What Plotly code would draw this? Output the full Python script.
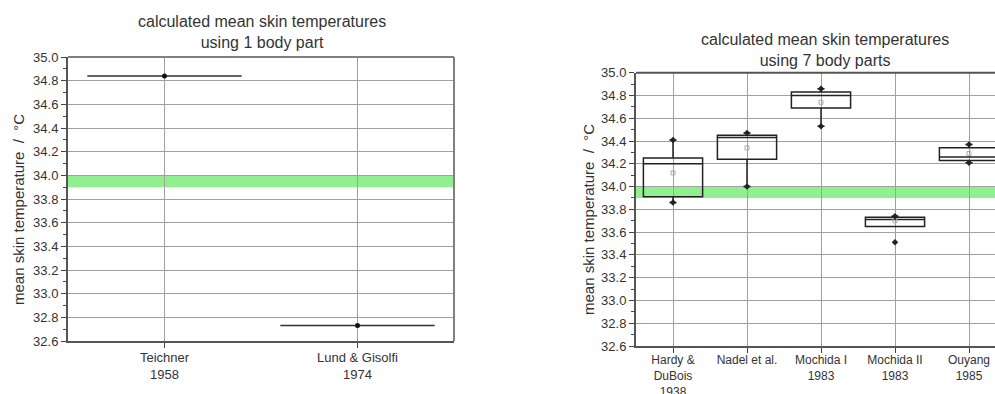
import plotly.graph_objects as go

# ---------------- data ----------------
left_categories = ["Teichner<br>1958", "Lund & Gisolfi<br>1974"]
left_values = [34.84, 32.73]

right_categories = ["Hardy &<br>DuBois<br>1938", "Nadel et al.", "Mochida I<br>1983",
                    "Mochida II<br>1983", "Ouyang<br>1985"]
right_q1 = [33.91, 34.24, 34.69, 33.65, 34.23]
right_median = [34.20, 34.43, 34.80, 33.71, 34.26]
right_q3 = [34.25, 34.45, 34.83, 33.73, 34.34]
right_lowfence = [33.86, 34.00, 34.53, 33.65, 34.21]
right_upfence = [34.41, 34.47, 34.86, 33.74, 34.37]
right_mean = [34.12, 34.34, 34.74, 33.70, 34.29]
right_min = [33.86, 34.00, 34.53, 33.51, 34.21]
right_max = [34.41, 34.47, 34.86, 33.74, 34.37]

band_low, band_high = 33.9, 34.0
y_range = [32.6, 35.0]
y_ticks = [32.6, 32.8, 33.0, 33.2, 33.4, 33.6, 33.8, 34.0, 34.2, 34.4, 34.6, 34.8, 35.0]

W, H = 995, 394
FONT = "Liberation Sans, Arial, sans-serif"
TXT = "#333333"

left_x = [i + 1 for i in range(len(left_categories))]
right_x = [i + 1 for i in range(len(right_categories))]

fig = go.Figure()

# ---------------- left chart ----------------
fig.add_trace(go.Box(
    x=left_x, q1=left_values, median=left_values, q3=left_values,
    lowerfence=left_values, upperfence=left_values,
    width=0.8, whiskerwidth=0, fillcolor="rgba(0,0,0,0)",
    line=dict(color="#333333", width=1.5), xaxis="x", yaxis="y",
    showlegend=False, hoverinfo="skip"))
fig.add_trace(go.Scatter(
    x=left_x, y=left_values, mode="markers",
    marker=dict(symbol="circle", size=5, color="#111111"),
    xaxis="x", yaxis="y", showlegend=False, hoverinfo="skip"))

# ---------------- right chart ----------------
fig.add_trace(go.Box(
    x=right_x, q1=right_q1, median=right_median, q3=right_q3,
    lowerfence=right_lowfence, upperfence=right_upfence,
    width=0.8, whiskerwidth=0.12, fillcolor="rgba(0,0,0,0)",
    line=dict(color="#222222", width=1.5), xaxis="x2", yaxis="y2",
    showlegend=False, hoverinfo="skip", boxpoints=False))
fig.add_trace(go.Scatter(
    x=right_x, y=right_mean, mode="markers",
    marker=dict(symbol="square-open", size=4, color="#aaaaaa", line=dict(width=1)),
    xaxis="x2", yaxis="y2", showlegend=False, hoverinfo="skip"))
fig.add_trace(go.Scatter(
    x=right_x + right_x, y=right_min + right_max, mode="markers",
    marker=dict(symbol="diamond", size=5, color="#222222"),
    xaxis="x2", yaxis="y2", showlegend=False, hoverinfo="skip"))

# ---------------- layout ----------------
ld = [68 / W, 454 / W]
ly = [1 - 341 / H, 1 - 57 / H]
rd = [636 / W, 1.0]
ry = [1 - 346 / H, 1 - 72.7 / H]

def xax(domain, rng, vals, text, anchor, fsize, standoff):
    return dict(domain=domain, range=rng, tickvals=vals, ticktext=text, anchor=anchor,
                automargin=False,
                showgrid=True, gridcolor="#a0a0a0", gridwidth=1,
                showline=True, linecolor="#555555", linewidth=2,
                ticks="outside", ticklen=5, tickcolor="#444444",
                ticklabelstandoff=standoff,
                tickfont=dict(family=FONT, size=fsize, color=TXT), zeroline=False)

def yax(domain, anchor):
    return dict(domain=domain, range=y_range, tickvals=y_ticks, tickformat=".1f", anchor=anchor,
                automargin=False,
                showgrid=True, gridcolor="#a0a0a0", gridwidth=1,
                showline=True, linecolor="#555555", linewidth=2,
                ticks="outside", ticklen=5, tickcolor="#444444",
                minor=dict(dtick=0.1, tick0=32.6, ticks="outside", ticklen=3,
                           tickcolor="#444444", showgrid=False),
                tickfont=dict(family=FONT, size=13, color=TXT), zeroline=False)

fig.update_layout(
    width=W, height=H, margin=dict(l=0, r=0, t=0, b=0),
    paper_bgcolor="white", plot_bgcolor="white",
    xaxis=xax(ld, [0.5, len(left_categories) + 0.5], left_x, left_categories, "y", 13, -2),
    yaxis=yax(ly, "x"),
    xaxis2=xax(rd, [0.5, 0.5 + (W - 636) / 74.0], right_x, right_categories, "y2", 12, -3),
    yaxis2=yax(ry, "x2"),
    font=dict(family=FONT, color=TXT),
)

# green bands
for xr, yr in (("x domain", "y"), ("x2 domain", "y2")):
    fig.add_shape(type="rect", xref=xr, yref=yr, x0=0, x1=1, y0=band_low, y1=band_high,
                  fillcolor="#90f090", line=dict(width=0), layer="below")

# top/right frame of left chart
fig.add_shape(type="line", xref="x domain", yref="y domain", x0=0, x1=1, y0=1, y1=1,
              line=dict(color="#808080", width=2))
fig.add_shape(type="line", xref="x domain", yref="y domain", x0=1, x1=1, y0=0, y1=1,
              line=dict(color="#808080", width=2))
fig.add_shape(type="line", xref="x2 domain", yref="y2 domain", x0=0, x1=1, y0=1, y1=1,
              line=dict(color="#555555", width=2))

# titles
fig.add_annotation(text="calculated mean skin temperatures<br>using 1 body part",
                   xref="paper", yref="paper", x=262 / W, y=1 - 32 / H,
                   xanchor="center", yanchor="middle", showarrow=False,
                   font=dict(family=FONT, size=16, color=TXT))
fig.add_annotation(text="calculated mean skin temperatures<br>using 7 body parts",
                   xref="paper", yref="paper", x=825 / W, y=1 - 50 / H,
                   xanchor="center", yanchor="middle", showarrow=False,
                   font=dict(family=FONT, size=16, color=TXT))
fig.add_annotation(text="mean skin temperature  /  °C", textangle=-90,
                   xref="paper", yref="paper", x=18 / W, y=1 - 210 / H,
                   xanchor="center", yanchor="middle", showarrow=False,
                   font=dict(family=FONT, size=15, color=TXT))
fig.add_annotation(text="mean skin temperature  /  °C", textangle=-90,
                   xref="paper", yref="paper", x=588 / W, y=1 - 220 / H,
                   xanchor="center", yanchor="middle", showarrow=False,
                   font=dict(family=FONT, size=15, color=TXT))

fig.write_html("out.html")
